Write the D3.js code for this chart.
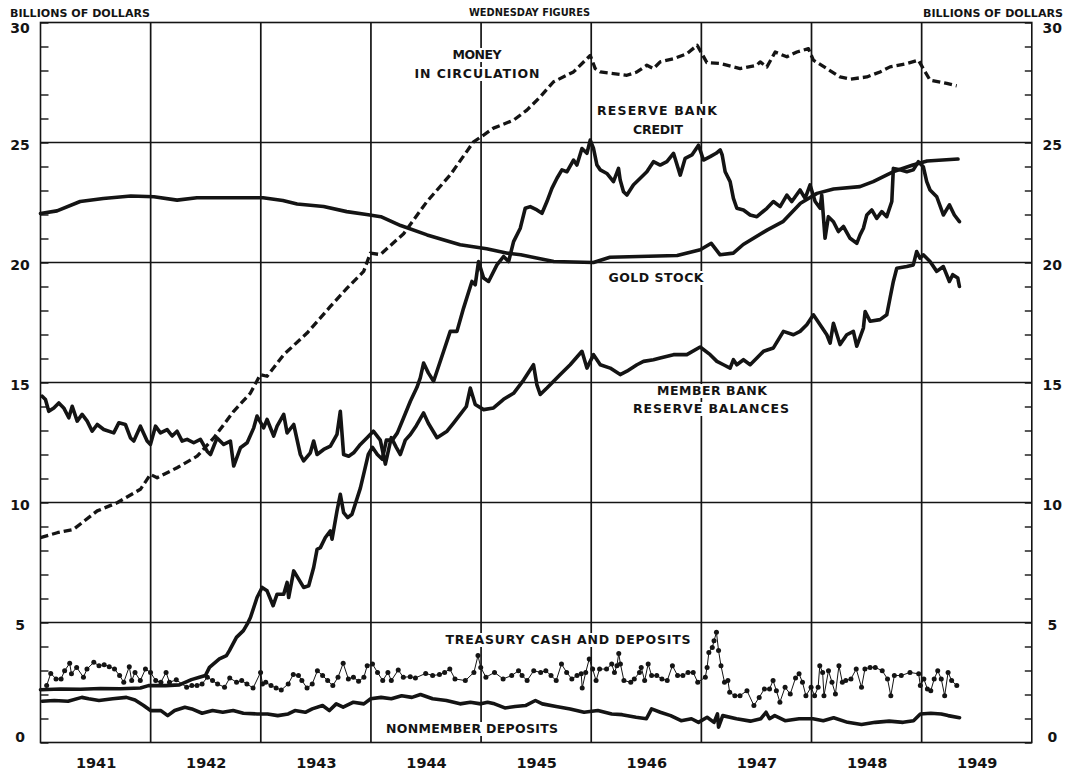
<!DOCTYPE html>
<html><head><meta charset="utf-8">
<script src="https://cdn.jsdelivr.net/npm/d3@7"></script>
<style>body{margin:0;background:#fff} svg{display:block}</style>
</head><body>
<svg id="chart" width="1072" height="773"></svg>
<script>
// ---------------- DATA (decimal year, billions of dollars) ----------------
const yearLabels = ["1941","1942","1943","1944","1945","1946","1947","1948","1949"];
const yTickLabels = [0,5,10,15,20,25,30];

const moneyInCirculation = [[1941.000,8.54],[1941.152,8.74],[1941.299,8.88],[1941.515,9.65],[1941.696,9.99],[1941.907,10.55],[1941.998,11.17],[1942.059,11.03],[1942.240,11.45],[1942.422,11.93],[1942.573,12.69],[1942.754,13.80],[1942.906,14.56],[1942.996,15.33],[1943.057,15.26],[1943.208,16.16],[1943.420,17.06],[1943.632,18.17],[1943.783,18.93],[1943.934,19.63],[1943.995,20.39],[1944.085,20.33],[1944.297,21.20],[1944.509,22.54],[1944.720,23.65],[1944.932,25.03],[1945.023,25.31],[1945.113,25.60],[1945.295,25.93],[1945.416,26.35],[1945.537,26.90],[1945.658,27.53],[1945.839,27.94],[1945.961,28.49],[1945.991,28.63],[1946.036,28.08],[1946.082,27.94],[1946.202,27.87],[1946.324,27.80],[1946.415,27.94],[1946.505,28.22],[1946.565,28.08],[1946.626,28.36],[1946.747,28.49],[1946.868,28.70],[1946.962,29.05],[1947.050,28.33],[1947.171,28.29],[1947.352,28.08],[1947.504,28.22],[1947.534,28.36],[1947.595,28.15],[1947.670,28.77],[1947.776,28.57],[1947.867,28.77],[1947.972,28.91],[1948.017,28.43],[1948.139,28.08],[1948.259,27.73],[1948.350,27.64],[1948.502,27.73],[1948.622,27.94],[1948.713,28.15],[1948.864,28.29],[1948.970,28.43],[1949.076,27.60],[1949.228,27.46],[1949.318,27.36]];

const goldStock = [[1941.00,22.04],[1941.15,22.15],[1941.36,22.54],[1941.57,22.67],[1941.82,22.77],[1942.03,22.74],[1942.24,22.60],[1942.42,22.70],[1942.72,22.70],[1943.02,22.70],[1943.20,22.58],[1943.33,22.44],[1943.57,22.33],[1943.78,22.12],[1943.96,22.00],[1944.09,21.91],[1944.27,21.54],[1944.51,21.15],[1944.81,20.74],[1945.05,20.57],[1945.24,20.39],[1945.36,20.32],[1945.66,20.04],[1946.02,20.00],[1946.17,20.22],[1946.78,20.29],[1946.99,20.53],[1947.09,20.80],[1947.17,20.32],[1947.29,20.39],[1947.38,20.75],[1947.60,21.36],[1947.74,21.70],[1947.90,22.47],[1948.05,22.88],[1948.20,23.06],[1948.44,23.16],[1948.56,23.37],[1948.74,23.78],[1948.92,24.06],[1949.05,24.23],[1949.33,24.31]];

const reserveBankCredit = [[1941.000,2.20],[1941.181,2.23],[1941.363,2.22],[1941.544,2.25],[1941.725,2.24],[1941.907,2.27],[1941.980,2.37],[1942.134,2.37],[1942.261,2.40],[1942.370,2.62],[1942.443,2.72],[1942.497,2.79],[1942.534,3.13],[1942.624,3.48],[1942.688,3.62],[1942.715,3.83],[1942.779,4.38],[1942.842,4.66],[1942.878,4.94],[1942.906,5.21],[1942.966,6.04],[1943.012,6.46],[1943.057,6.32],[1943.112,5.70],[1943.148,6.18],[1943.208,6.18],[1943.239,6.67],[1943.253,6.04],[1943.299,7.15],[1943.344,6.81],[1943.389,6.46],[1943.435,6.53],[1943.480,7.29],[1943.511,8.05],[1943.541,8.12],[1943.586,8.54],[1943.632,8.82],[1943.647,8.47],[1943.692,9.65],[1943.722,10.34],[1943.752,9.58],[1943.789,9.37],[1943.828,9.51],[1943.904,10.60],[1943.940,11.30],[1943.976,12.00],[1944.013,12.30],[1944.058,12.00],[1944.103,11.80],[1944.140,12.60],[1944.194,12.60],[1944.240,12.90],[1944.294,13.50],[1944.358,14.22],[1944.418,14.80],[1944.448,15.19],[1944.478,15.81],[1944.521,15.40],[1944.569,15.05],[1944.660,16.30],[1944.720,17.13],[1944.781,17.13],[1944.841,18.10],[1944.917,19.21],[1944.947,19.07],[1944.977,20.04],[1945.023,19.35],[1945.068,19.21],[1945.144,19.90],[1945.204,20.25],[1945.250,20.04],[1945.295,20.87],[1945.356,21.43],[1945.401,22.26],[1945.446,22.33],[1945.507,22.19],[1945.553,22.05],[1945.598,22.54],[1945.643,23.09],[1945.689,23.51],[1945.734,23.86],[1945.779,23.78],[1945.839,24.27],[1945.870,24.06],[1945.916,24.75],[1945.961,24.55],[1945.991,25.10],[1946.021,24.75],[1946.052,24.06],[1946.082,23.86],[1946.142,23.71],[1946.202,23.37],[1946.248,23.92],[1946.263,23.44],[1946.293,22.95],[1946.324,22.81],[1946.384,23.24],[1946.445,23.51],[1946.505,23.78],[1946.565,24.20],[1946.626,24.06],[1946.687,24.20],[1946.747,24.55],[1946.808,23.64],[1946.853,24.34],[1946.914,24.48],[1946.974,24.89],[1947.019,24.27],[1947.080,24.41],[1947.134,24.55],[1947.171,24.69],[1947.189,24.48],[1947.216,23.78],[1947.261,23.37],[1947.291,22.67],[1947.322,22.26],[1947.382,22.19],[1947.443,21.98],[1947.504,21.91],[1947.595,22.26],[1947.654,22.54],[1947.715,22.33],[1947.776,22.81],[1947.821,22.54],[1947.896,23.02],[1947.942,22.67],[1947.987,23.23],[1948.033,22.54],[1948.078,22.26],[1948.093,22.81],[1948.123,21.01],[1948.153,21.91],[1948.199,21.70],[1948.244,21.29],[1948.290,21.50],[1948.350,21.01],[1948.411,20.80],[1948.441,21.15],[1948.471,21.43],[1948.502,21.98],[1948.547,22.19],[1948.592,21.84],[1948.638,22.12],[1948.683,21.91],[1948.729,22.54],[1948.743,23.92],[1948.804,23.86],[1948.865,23.78],[1948.924,23.86],[1948.970,24.20],[1949.015,23.99],[1949.046,23.37],[1949.076,23.02],[1949.137,22.74],[1949.197,21.98],[1949.252,22.40],[1949.297,21.98],[1949.343,21.70]];

const memberBankReserves = [[1941.015,14.43],[1941.045,14.29],[1941.075,13.80],[1941.121,13.94],[1941.166,14.15],[1941.211,13.94],[1941.257,13.53],[1941.288,14.01],[1941.333,13.39],[1941.378,13.67],[1941.424,13.39],[1941.469,12.97],[1941.515,13.25],[1941.574,13.04],[1941.665,12.90],[1941.711,13.32],[1941.771,13.25],[1941.817,12.69],[1941.847,12.56],[1941.907,13.18],[1941.968,12.56],[1941.998,12.42],[1942.044,13.18],[1942.089,12.90],[1942.150,13.04],[1942.195,12.77],[1942.240,12.97],[1942.286,12.56],[1942.331,12.63],[1942.391,12.49],[1942.452,12.63],[1942.513,12.14],[1942.543,12.00],[1942.603,12.69],[1942.663,12.42],[1942.724,12.56],[1942.754,11.52],[1942.815,12.28],[1942.876,12.49],[1942.936,13.11],[1942.966,13.60],[1943.026,13.11],[1943.057,13.46],[1943.117,12.77],[1943.148,13.18],[1943.208,13.67],[1943.239,12.90],[1943.299,13.25],[1943.359,12.00],[1943.389,11.73],[1943.450,12.07],[1943.480,12.56],[1943.511,12.00],[1943.571,12.21],[1943.632,12.35],[1943.692,12.84],[1943.722,13.80],[1943.752,12.00],[1943.798,11.93],[1943.843,12.07],[1943.904,12.42],[1943.965,12.70],[1944.022,12.97],[1944.085,12.60],[1944.131,11.60],[1944.185,12.70],[1944.230,12.30],[1944.267,12.00],[1944.312,12.60],[1944.358,12.83],[1944.412,13.20],[1944.478,13.73],[1944.521,13.30],[1944.600,12.70],[1944.691,12.97],[1944.748,13.30],[1944.811,13.67],[1944.866,14.00],[1944.902,14.77],[1944.947,14.08],[1945.023,13.87],[1945.113,13.94],[1945.204,14.30],[1945.295,14.55],[1945.386,15.10],[1945.476,15.74],[1945.507,14.90],[1945.537,14.50],[1945.598,14.77],[1945.719,15.33],[1945.809,15.74],[1945.916,16.30],[1945.961,15.60],[1946.021,16.16],[1946.082,15.74],[1946.172,15.60],[1946.263,15.33],[1946.324,15.47],[1946.415,15.74],[1946.475,15.88],[1946.565,15.95],[1946.626,16.02],[1946.747,16.16],[1946.868,16.16],[1946.989,16.48],[1947.080,16.16],[1947.141,15.88],[1947.201,15.74],[1947.261,15.60],[1947.291,15.95],[1947.322,15.74],[1947.382,15.95],[1947.443,15.74],[1947.504,16.02],[1947.564,16.30],[1947.654,16.44],[1947.745,17.13],[1947.836,16.99],[1947.896,17.13],[1947.957,17.41],[1948.017,17.82],[1948.078,17.41],[1948.139,16.99],[1948.169,16.64],[1948.199,17.47],[1948.259,16.58],[1948.320,16.99],[1948.380,17.13],[1948.411,16.51],[1948.471,17.27],[1948.487,17.96],[1948.532,17.55],[1948.622,17.62],[1948.683,17.82],[1948.713,18.52],[1948.743,19.21],[1948.774,19.76],[1948.865,19.83],[1948.924,19.90],[1948.955,20.46],[1948.985,20.18],[1949.015,20.32],[1949.076,20.04],[1949.137,19.63],[1949.197,19.83],[1949.252,19.21],[1949.282,19.49],[1949.328,19.35],[1949.343,19.00]];

const treasuryCashDeposits = [[1941.056,2.37],[1941.093,2.88],[1941.141,2.65],[1941.187,2.65],[1941.219,2.99],[1941.265,3.30],[1941.281,2.86],[1941.328,3.13],[1941.390,2.72],[1941.422,3.06],[1941.484,3.34],[1941.531,3.20],[1941.578,3.24],[1941.624,3.16],[1941.672,3.06],[1941.718,2.79],[1941.756,2.51],[1941.806,3.16],[1941.828,2.58],[1941.858,2.92],[1941.906,2.58],[1941.953,3.06],[1941.999,2.92],[1942.046,2.58],[1942.093,2.51],[1942.140,2.92],[1942.171,2.51],[1942.233,2.61],[1942.327,2.30],[1942.374,2.37],[1942.421,2.37],[1942.467,2.44],[1942.515,2.72],[1942.562,2.58],[1942.608,2.44],[1942.671,2.30],[1942.718,2.69],[1942.780,2.51],[1942.827,2.58],[1942.874,2.44],[1942.930,2.27],[1942.998,2.92],[1943.015,2.44],[1943.045,2.51],[1943.093,2.37],[1943.139,2.27],[1943.186,2.19],[1943.249,2.44],[1943.295,2.83],[1943.342,2.79],[1943.373,2.58],[1943.420,2.27],[1943.467,2.44],[1943.514,2.99],[1943.561,2.79],[1943.607,2.58],[1943.654,2.37],[1943.701,2.72],[1943.748,3.30],[1943.795,2.65],[1943.841,2.72],[1943.888,2.55],[1943.936,2.72],[1943.966,3.20],[1944.014,3.27],[1944.060,2.92],[1944.107,2.58],[1944.154,2.92],[1944.185,2.58],[1944.248,3.02],[1944.294,2.72],[1944.357,2.74],[1944.404,2.69],[1944.497,2.88],[1944.560,2.79],[1944.622,2.83],[1944.669,2.92],[1944.716,3.06],[1944.763,2.65],[1944.857,2.58],[1944.935,2.92],[1944.972,3.62],[1944.997,3.13],[1945.044,2.72],[1945.122,2.92],[1945.200,2.65],[1945.278,2.79],[1945.340,2.99],[1945.372,2.79],[1945.418,2.58],[1945.478,2.99],[1945.541,2.92],[1945.588,2.99],[1945.635,2.79],[1945.682,2.58],[1945.730,3.27],[1945.777,2.92],[1945.824,2.65],[1945.871,2.79],[1945.909,2.86],[1945.918,2.27],[1945.950,2.92],[1945.982,3.48],[1946.013,3.06],[1946.044,2.58],[1946.076,3.06],[1946.139,3.06],[1946.186,3.27],[1946.211,2.92],[1946.233,3.20],[1946.250,3.71],[1946.265,3.27],[1946.297,2.58],[1946.359,2.51],[1946.391,2.65],[1946.438,2.92],[1946.454,3.13],[1946.485,2.58],[1946.517,3.27],[1946.548,2.79],[1946.595,2.79],[1946.642,2.65],[1946.690,2.58],[1946.737,3.20],[1946.784,2.79],[1946.832,2.79],[1946.879,2.92],[1946.926,2.92],[1946.967,2.51],[1947.036,2.72],[1947.052,3.13],[1947.068,3.75],[1947.099,3.96],[1947.115,4.24],[1947.137,4.59],[1947.156,3.83],[1947.178,3.20],[1947.210,2.51],[1947.241,2.58],[1947.257,2.09],[1947.304,1.95],[1947.351,1.95],[1947.414,2.16],[1947.477,1.54],[1947.525,1.88],[1947.572,2.23],[1947.619,2.23],[1947.651,2.58],[1947.681,2.16],[1947.713,1.68],[1947.760,2.30],[1947.807,2.02],[1947.855,2.69],[1947.887,2.86],[1947.918,2.51],[1947.949,1.95],[1947.996,2.30],[1948.028,1.95],[1948.060,2.30],[1948.075,3.20],[1948.101,2.92],[1948.113,1.95],[1948.154,2.99],[1948.186,2.51],[1948.217,2.02],[1948.249,3.20],[1948.280,2.51],[1948.311,2.58],[1948.358,2.65],[1948.406,3.06],[1948.454,2.30],[1948.485,3.06],[1948.532,3.13],[1948.579,3.13],[1948.642,2.99],[1948.690,2.65],[1948.720,1.95],[1948.752,2.79],[1948.815,2.79],[1948.894,2.92],[1948.973,2.86],[1948.988,2.37],[1949.020,2.65],[1949.052,2.23],[1949.083,2.16],[1949.114,2.65],[1949.146,2.99],[1949.178,2.65],[1949.209,1.95],[1949.240,2.92],[1949.272,2.58],[1949.319,2.37]];

const nonmemberDeposits = [[1941.015,1.72],[1941.125,1.75],[1941.250,1.72],[1941.375,1.88],[1941.437,1.82],[1941.531,1.75],[1941.656,1.82],[1941.780,1.88],[1941.858,1.77],[1941.936,1.54],[1941.999,1.33],[1942.093,1.33],[1942.155,1.12],[1942.218,1.33],[1942.311,1.47],[1942.374,1.40],[1942.467,1.22],[1942.562,1.33],[1942.655,1.26],[1942.749,1.33],[1942.842,1.22],[1942.967,1.19],[1943.061,1.19],[1943.154,1.12],[1943.249,1.19],[1943.310,1.33],[1943.404,1.26],[1943.467,1.40],[1943.561,1.54],[1943.623,1.33],[1943.685,1.61],[1943.748,1.47],[1943.841,1.68],[1943.936,1.61],[1943.998,1.82],[1944.092,1.88],[1944.185,1.82],[1944.279,1.95],[1944.372,1.88],[1944.450,2.00],[1944.560,1.82],[1944.685,1.75],[1944.809,1.61],[1944.903,1.68],[1944.997,1.61],[1945.059,1.68],[1945.122,1.61],[1945.216,1.44],[1945.309,1.50],[1945.403,1.54],[1945.493,1.75],[1945.556,1.61],[1945.682,1.50],[1945.809,1.40],[1945.935,1.26],[1946.060,1.33],[1946.186,1.19],[1946.280,1.16],[1946.407,1.05],[1946.501,0.99],[1946.548,1.40],[1946.627,1.26],[1946.721,1.12],[1946.816,0.91],[1946.910,0.99],[1946.974,0.84],[1947.052,1.05],[1947.115,0.84],[1947.146,1.19],[1947.156,0.64],[1947.194,1.12],[1947.319,0.99],[1947.445,0.89],[1947.540,0.99],[1947.587,1.26],[1947.619,0.99],[1947.666,1.12],[1947.760,0.91],[1947.887,0.99],[1948.013,0.99],[1948.107,0.91],[1948.201,1.03],[1948.328,0.84],[1948.454,0.75],[1948.579,0.84],[1948.705,0.89],[1948.831,0.84],[1948.926,0.91],[1948.988,1.19],[1949.083,1.22],[1949.178,1.19],[1949.240,1.12],[1949.344,1.03]];

// ---------------- LAYOUT ----------------
const ink = "#141414";
const svg = d3.select("#chart");
const x = d3.scaleLinear().domain([1941, 1950]).range([40.5, 1031.8]);
const y = d3.scaleLinear().domain([0, 30]).range([742.5, 22.5]);
const font = "'DejaVu Sans', Verdana, sans-serif";

// grid
const grid = svg.append("g").attr("stroke", ink);
grid.selectAll("line.h").data([5,10,15,20,25]).join("line")
  .attr("x1", x(1941)).attr("x2", x(1950))
  .attr("y1", d => y(d)).attr("y2", d => y(d)).attr("stroke-width", 1.4);
grid.selectAll("line.v").data(d3.range(1942, 1950)).join("line")
  .attr("x1", d => x(d)).attr("x2", d => x(d))
  .attr("y1", y(30)).attr("y2", y(0)).attr("stroke-width", 1.7);

// frame
svg.append("rect").attr("x", x(1941)).attr("y", y(30))
  .attr("width", x(1950) - x(1941)).attr("height", y(0) - y(30))
  .attr("fill", "none").attr("stroke", ink).attr("stroke-width", 1.6);

// y axes (minor ticks inward, labels every 5)
const yTicks = d3.range(0, 31);
const labelShift = v => v === 30 ? 10 : (v === 0 ? -1.5 : 7);
const leftAxis = d3.axisLeft(y).tickValues(yTicks).tickSizeInner(-8).tickSizeOuter(0)
  .tickFormat(v => yTickLabels.includes(v) ? String(v) : "");
const gl = svg.append("g").attr("transform", `translate(${x(1941)},0)`).call(leftAxis);
const rightAxis = d3.axisRight(y).tickValues(yTicks).tickSizeInner(-7).tickSizeOuter(0)
  .tickFormat(v => yTickLabels.includes(v) ? String(v) : "");
const gr = svg.append("g").attr("transform", `translate(${x(1950)},0)`).call(rightAxis);
[[gl, -20.5], [gr, 20.5]].forEach(([g, dx]) => {
  g.select(".domain").remove();
  g.selectAll(".tick line").attr("stroke", ink).attr("stroke-width", 1.4);
  g.selectAll(".tick text").attr("x", dx).attr("dy", null).attr("y", d => labelShift(d))
    .attr("text-anchor", "middle").attr("fill", ink)
    .style("font-family", font).style("font-weight", "bold").style("font-size", "14px");
});

// x axis labels (centred on each year)
const xAxis = d3.axisBottom(x).tickValues(yearLabels.map(s => +s + 0.5)).tickSize(0)
  .tickFormat((d, i) => yearLabels[i]);
const gx = svg.append("g").attr("transform", `translate(0,${y(0)})`).call(xAxis);
gx.select(".domain").remove();
gx.selectAll(".tick text").attr("y", 25).attr("dy", null).attr("fill", ink)
  .style("font-family", font).style("font-weight", "bold").style("font-size", "14.5px");

// series
const line = d3.line().x(d => x(d[0])).y(d => y(d[1]));
const thick = (data, w) => svg.append("path").datum(data).attr("d", line)
  .attr("fill", "none").attr("stroke", ink).attr("stroke-width", w)
  .attr("stroke-linejoin", "round").attr("stroke-linecap", "round");
thick(goldStock, 3.6);
thick(memberBankReserves, 3.6);
thick(reserveBankCredit, 3.6);
thick(nonmemberDeposits, 3.6);
svg.append("path").datum(moneyInCirculation).attr("d", line)
  .attr("fill", "none").attr("stroke", ink).attr("stroke-width", 3.3)
  .attr("stroke-dasharray", "8,4").attr("stroke-linejoin", "round");
svg.append("path").datum(treasuryCashDeposits).attr("d", line)
  .attr("fill", "none").attr("stroke", ink).attr("stroke-width", 1);
svg.append("g").selectAll("circle").data(treasuryCashDeposits).join("circle")
  .attr("cx", d => x(d[0])).attr("cy", d => y(d[1])).attr("r", 2.5).attr("fill", ink);

// series labels (white backing breaks the grid, as in the original)
const seriesLabels = [
  {text: "MONEY", cx: 477, base: 59, w: 49},
  {text: "IN CIRCULATION", cx: 477, base: 78, w: 125},
  {text: "RESERVE BANK", cx: 657, base: 115, w: 120},
  {text: "CREDIT", cx: 658, base: 134, w: 50},
  {text: "GOLD STOCK", cx: 656, base: 282, w: 95},
  {text: "MEMBER BANK", cx: 712, base: 395, w: 110},
  {text: "RESERVE BALANCES", cx: 711, base: 413, w: 156},
  {text: "TREASURY CASH AND DEPOSITS", cx: 568, base: 644, w: 245},
  {text: "NONMEMBER DEPOSITS", cx: 472, base: 733, w: 172}
];
const lg = svg.append("g");
lg.selectAll("rect").data(seriesLabels).join("rect")
  .attr("x", d => d.cx - d.w / 2 - 3).attr("y", d => d.base - 11)
  .attr("width", d => d.w + 6).attr("height", 14).attr("fill", "#fff");
lg.selectAll("text").data(seriesLabels).join("text")
  .attr("x", d => d.cx - d.w / 2).attr("y", d => d.base)
  .attr("textLength", d => d.w).attr("lengthAdjust", "spacing")
  .attr("fill", ink).style("font-family", font).style("font-weight", "bold")
  .style("font-size", "12.5px").text(d => d.text);

// headers
const headers = [
  {text: "BILLIONS OF DOLLARS", x0: 10, base: 17, w: 140},
  {text: "WEDNESDAY FIGURES", x0: 469, base: 16, w: 121},
  {text: "BILLIONS OF DOLLARS", x0: 923, base: 17, w: 140}
];
svg.append("g").selectAll("text").data(headers).join("text")
  .attr("x", d => d.x0).attr("y", d => d.base)
  .attr("textLength", d => d.w).attr("lengthAdjust", "spacingAndGlyphs")
  .attr("fill", ink).style("font-family", font).style("font-weight", "bold")
  .style("font-size", "10px").text(d => d.text);
</script>
</body></html>
